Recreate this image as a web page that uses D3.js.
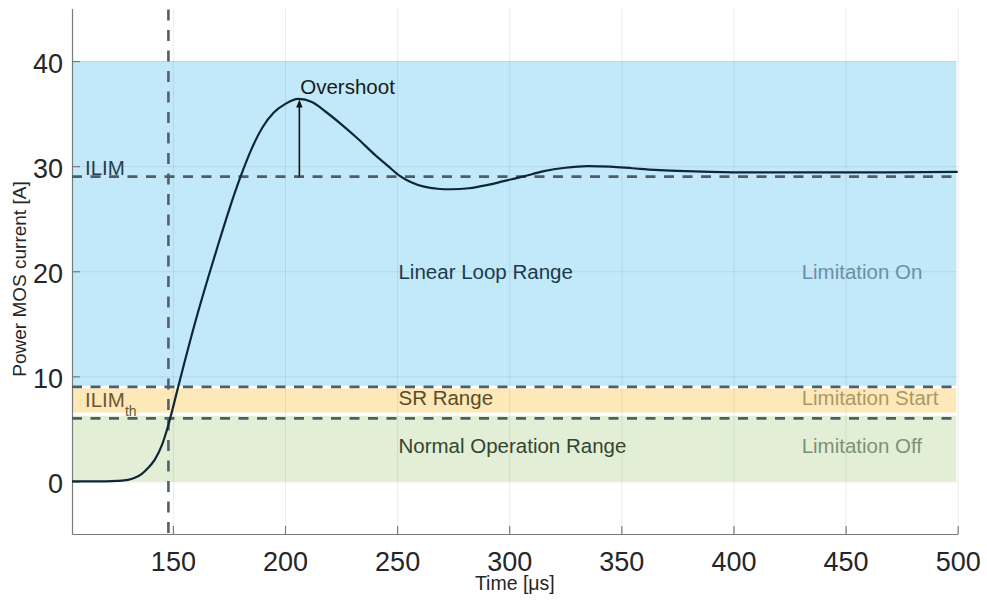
<!DOCTYPE html>
<html>
<head>
<meta charset="utf-8">
<script src="https://cdn.jsdelivr.net/npm/d3@7"></script>
<style>
  html, body { margin: 0; padding: 0; background: #fff; }
  svg { display: block; font-family: "Liberation Sans", Arial, Helvetica, sans-serif; }
</style>
</head>
<body>
<svg id="chart" width="987" height="609"></svg>
<script>
// Current through the power MOS during a current-limited turn-on
const timeUs = [105, 115, 120, 125, 130, 133, 136, 139, 142, 145, 148, 150, 152, 155, 160, 166, 170, 175, 180,
  185, 190, 195, 200, 206, 212, 218, 225, 232, 240, 246, 251, 256, 262, 268, 274, 282, 290, 298, 306, 315, 325,
  335, 345, 355, 365, 375, 390, 410, 440, 470, 500];
const currentA = [0, 0, 0.01, 0.05, 0.15, 0.35, 0.7, 1.3, 2.1, 3.4, 5.4, 7.0, 8.7, 11.2, 15.2, 19.6, 22.4, 25.8, 28.9,
  31.6, 33.7, 35.1, 35.9, 36.4, 36.1, 35.2, 34.0, 32.7, 31.1, 30.0, 29.1, 28.5, 28.05, 27.85, 27.8, 27.9, 28.2, 28.6, 29.0, 29.5, 29.85,
  30.0, 29.95, 29.8, 29.65, 29.55, 29.45, 29.4, 29.4, 29.4, 29.45];

// Operating ranges (shaded bands), bottom/top in A
const bandNames = ["Normal Operation Range", "SR Range", "Linear Loop Range"];
const bandLow = [0, 6.55, 9.1];
const bandHigh = [6.25, 8.85, 40];
const bandColors = ["#e2efd6", "#fde8b9", "#c2e9f9"];
const bandTextColors = ["#34452f", "#5b4b26", "#1b3a4c"];
const bandTextY = [3.45, 7.95, 20];

// Limitation state per range
const stateNames = ["Limitation Off", "Limitation Start", "Limitation On"];
const stateColors = ["#7e9078", "#ab9866", "#6d8fa3"];

// Reference levels
const ilim = 29;
const ilimTh = 6;
const srTop = 9;
const tThreshold = 148;
const overshootTime = 206.4;
const overshootPeak = 36.35;

const xTicks = [150, 200, 250, 300, 350, 400, 450, 500];
const yTicks = [0, 10, 20, 30, 40];

const svg = d3.select("#chart");
const margin = { left: 72, right: 30, top: 8.5, bottom: 75 };
const W = 987, H = 609;

const x = d3.scaleLinear().domain([105, 500]).range([margin.left, W - margin.right + 0.7]);
const y = d3.scaleLinear().domain([-5, 45]).range([H - margin.bottom, margin.top]);

// Shaded bands
svg.append("g").selectAll("rect").data(bandNames).join("rect")
  .attr("x", x(105))
  .attr("width", x(499.4) - x(105))
  .attr("y", (d, i) => y(bandHigh[i]))
  .attr("height", (d, i) => y(bandLow[i]) - y(bandHigh[i]))
  .attr("fill", (d, i) => bandColors[i]);

// Grid
const grid = svg.append("g").attr("stroke", "#000").attr("stroke-opacity", 0.075).attr("stroke-width", 1);
grid.selectAll("line.gx").data(xTicks).join("line")
  .attr("class", "gx")
  .attr("x1", d => x(d) + 0.5).attr("x2", d => x(d) + 0.5)
  .attr("y1", y(45)).attr("y2", y(-5));
grid.selectAll("line.gy").data(yTicks).join("line")
  .attr("class", "gy")
  .attr("x1", x(105)).attr("x2", x(500))
  .attr("y1", d => y(d) + 0.5).attr("y2", d => y(d) + 0.5);

// Axes
const fmt = d3.format("d");
const xAxis = svg.append("g")
  .attr("transform", `translate(0,${y(-5)})`)
  .call(d3.axisBottom(x).tickValues(xTicks).tickFormat(fmt).tickSizeInner(-8).tickSizeOuter(0).tickPadding(0));
const yAxis = svg.append("g")
  .attr("transform", `translate(${x(105)},0)`)
  .call(d3.axisLeft(y).tickValues(yTicks).tickFormat(fmt).tickSizeInner(-8).tickSizeOuter(0).tickPadding(0));

[xAxis, yAxis].forEach(a => {
  a.select(".domain").attr("stroke", "#7a7a7a").attr("stroke-width", 1.2);
  a.selectAll(".tick line").attr("stroke", "#7a7a7a").attr("stroke-width", 1.2);
  a.selectAll(".tick text")
    .attr("fill", "#262626")
    .attr("font-size", 27)
    .attr("font-family", "'Liberation Sans', Arial, sans-serif");
});
xAxis.selectAll(".tick text").attr("y", 37).attr("dy", 0);
yAxis.selectAll(".tick text").attr("x", -9).attr("dy", "0.42em");

// Dashed reference lines
const dash = "10,8.5";
svg.append("g").selectAll("line").data([ilim, srTop, ilimTh]).join("line")
  .attr("x1", x(105)).attr("x2", x(500))
  .attr("y1", d => y(d)).attr("y2", d => y(d))
  .attr("stroke", "#4f5d65").attr("stroke-width", 2.6)
  .attr("stroke-dasharray", dash);
svg.append("line")
  .attr("x1", x(tThreshold)).attr("x2", x(tThreshold))
  .attr("y1", y(45) + 1).attr("y2", y(-5))
  .attr("stroke", "#555e66").attr("stroke-width", 2.6)
  .attr("stroke-dasharray", "11,9.5");

// Current waveform
const line = d3.line()
  .x((d, i) => x(timeUs[i]))
  .y(d => y(d))
  .curve(d3.curveMonotoneX);
svg.append("path")
  .datum(currentA)
  .attr("d", line)
  .attr("fill", "none")
  .attr("stroke", "#0e2736")
  .attr("stroke-width", 2.2);

// Overshoot arrow
const ax = x(overshootTime);
const tipY = y(overshootPeak);
svg.append("line")
  .attr("x1", ax).attr("x2", ax)
  .attr("y1", y(ilim)).attr("y2", tipY + 6)
  .attr("stroke", "#111").attr("stroke-width", 1.6);
svg.append("path")
  .attr("d", `M${ax},${tipY} L${ax - 3.2},${tipY + 8} L${ax + 3.2},${tipY + 8} Z`)
  .attr("fill", "#111");

// Text annotations
const labelSize = 20.5;
svg.append("text")
  .attr("x", x(206.8)).attr("y", y(36.9))
  .attr("font-size", labelSize).attr("fill", "#1a1a1a")
  .text("Overshoot");

svg.append("text")
  .attr("x", x(110.8)).attr("y", y(29.2))
  .attr("font-size", labelSize).attr("fill", "#2b3d48")
  .text("ILIM");

const th = svg.append("text")
  .attr("x", x(110.8)).attr("y", y(7.13))
  .attr("font-size", labelSize).attr("fill", "#6b5a30");
th.append("tspan").text("ILIM");
th.append("tspan").attr("font-size", 14).attr("dy", 9).text("th");

svg.append("g").selectAll("text").data(bandNames).join("text")
  .attr("x", x(250.6))
  .attr("y", (d, i) => y(bandTextY[i]))
  .attr("dy", "0.36em")
  .attr("font-size", labelSize)
  .attr("fill", (d, i) => bandTextColors[i])
  .text(d => d);

svg.append("g").selectAll("text").data(stateNames).join("text")
  .attr("x", x(430.4))
  .attr("y", (d, i) => y(bandTextY[i]))
  .attr("dy", "0.36em")
  .attr("font-size", labelSize)
  .attr("fill", (d, i) => stateColors[i])
  .text(d => d);

// Axis titles
svg.append("text")
  .attr("x", (x(105) + x(500)) / 2).attr("y", 590)
  .attr("text-anchor", "middle")
  .attr("font-size", 19.5).attr("fill", "#262626")
  .text("Time [μs]");

svg.append("text")
  .attr("transform", `translate(26,279) rotate(-90)`)
  .attr("text-anchor", "middle")
  .attr("font-size", 19).attr("fill", "#262626")
  .text("Power MOS current [A]");
</script>
</body>
</html>
